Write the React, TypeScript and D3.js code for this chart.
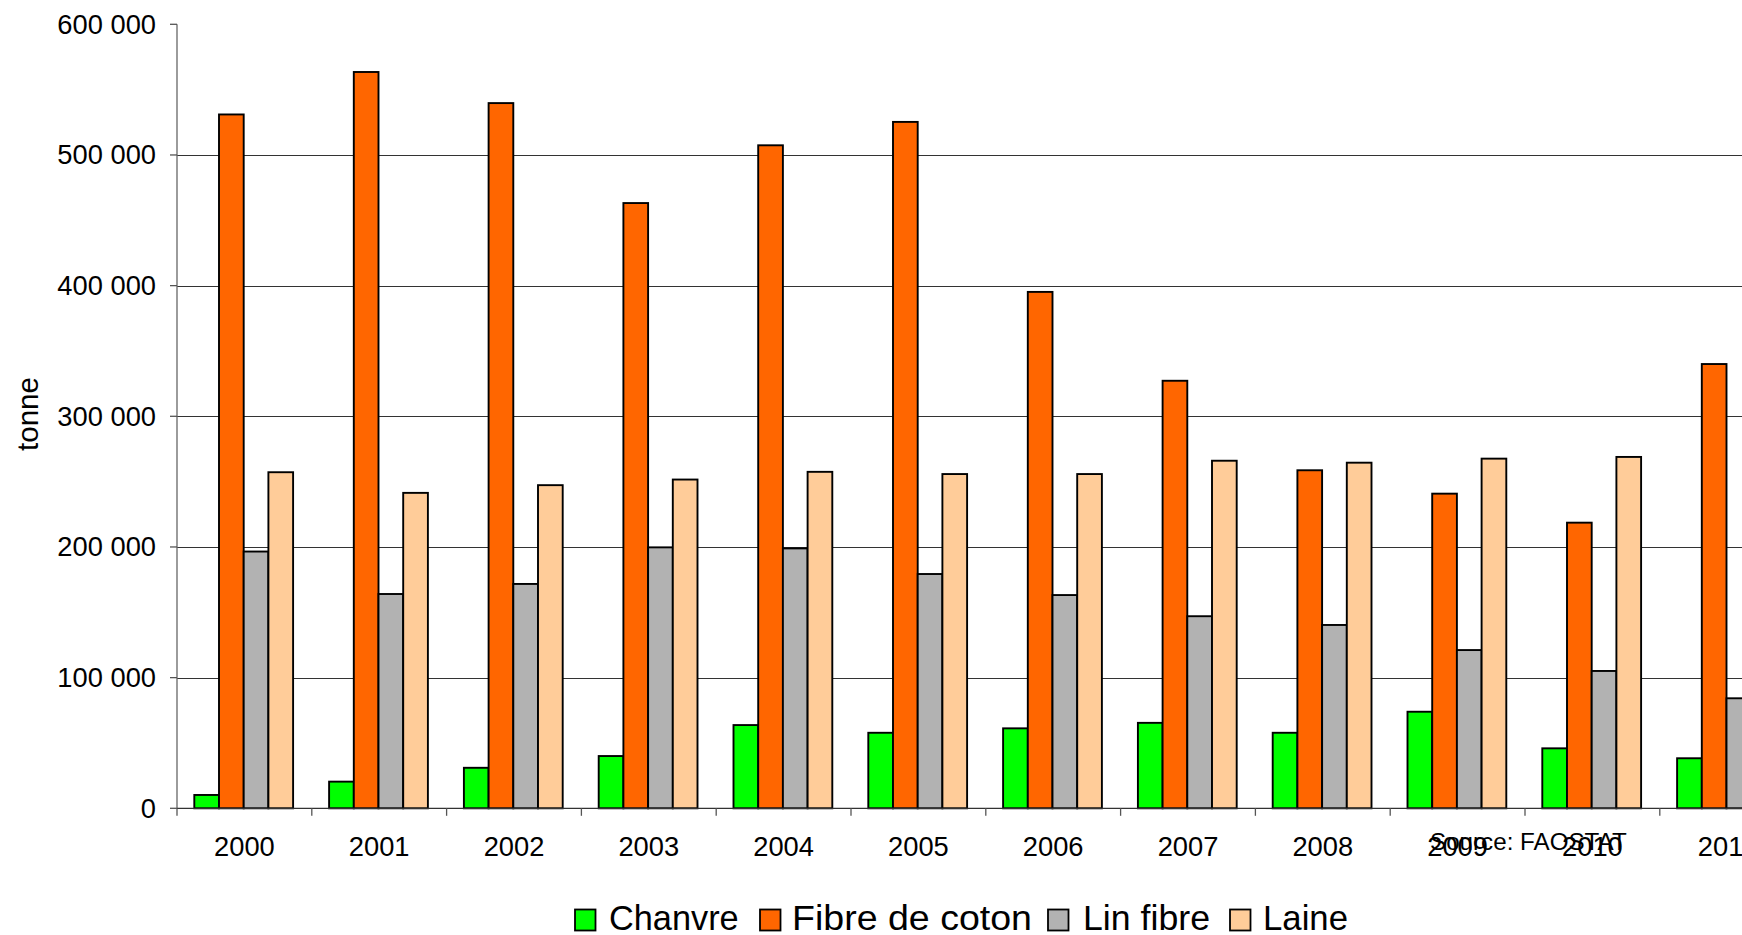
import React from "react";
import * as d3 from "d3";

const years = ["2000", "2001", "2002", "2003", "2004", "2005", "2006", "2007", "2008", "2009", "2010", "2011"];
const seriesNames = ["Chanvre", "Fibre de coton", "Lin fibre", "Laine"];
const seriesColors = ["#00FF00", "#FF6600", "#B2B2B2", "#FFCC99"];
const chanvre = [10200, 20400, 31000, 40000, 63700, 57800, 61200, 65400, 57800, 73900, 45900, 38300];
const fibreCoton = [531000, 563500, 539700, 463200, 507400, 525300, 395200, 327200, 258700, 240800, 218600, 340000];
const linFibre = [196500, 164000, 171700, 199700, 198900, 179300, 163200, 147000, 140300, 121100, 105100, 84200];
const laine = [257200, 241400, 247300, 251600, 257500, 255800, 255800, 266000, 264500, 267600, 268900, 270000];
const yTicks = [0, 100000, 200000, 300000, 400000, 500000, 600000];
const yLabel = "tonne";
const sourceText = "Source: FAOSTAT";

const W = 1742;
const H = 935;
const FONT = "'Liberation Sans', Arial, sans-serif";

export default function App() {
  const data = [chanvre, fibreCoton, linFibre, laine];
  const left = 177;
  const band = 134.8;
  const x0 = d3.scaleBand<string>().domain(years).range([left, left + band * years.length]).paddingInner(0).paddingOuter(0);
  const x1 = d3.scaleBand<string>().domain(seriesNames).range([17.3, 17.3 + 98.8]).padding(0);
  const y = d3.scaleLinear().domain([0, 600000]).range([808.3, 24.3]);
  const fmt = (v: number) => d3.format(",")(v).replace(/,/g, " ");

  const legendSquares = [575, 760, 1048, 1230];
  const legendText = [609, 792, 1083, 1263];
  const legendLen = [129.7, 240, 127, 85];

  return (
    <svg width={W} height={H} style={{ position: "absolute", left: 0, top: 0, background: "#fff" }} fontFamily={FONT}>
      <rect x={0} y={0} width={W} height={H} fill="#fff" />
      {/* gridlines */}
      {yTicks.filter((t) => t > 0 && t < 600000).map((t) => (
        <line key={"g" + t} x1={left} x2={W} y1={Math.round(y(t)) + 0.5} y2={Math.round(y(t)) + 0.5} stroke="#333" strokeWidth={1.2} />
      ))}
      {/* bars */}
      {years.map((yr, i) => (
        <g key={yr} transform={`translate(${x0(yr)},0)`}>
          {seriesNames.map((s, j) => {
            const v = data[j][i];
            return (
              <rect
                key={s}
                x={x1(s)}
                y={y(v)}
                width={x1.bandwidth()}
                height={y(0) - y(v)}
                fill={seriesColors[j]}
                stroke="#000"
                strokeWidth={1.9}
              />
            );
          })}
        </g>
      ))}
      {/* y axis */}
      <line x1={left} x2={left} y1={y(600000)} y2={y(0)} stroke="#666" strokeWidth={1.3} />
      {yTicks.map((t) => (
        <g key={"t" + t}>
          <line x1={left - 7} x2={left} y1={y(t)} y2={y(t)} stroke="#555" strokeWidth={1.3} />
          <text x={156} y={y(t) + 9.4} textAnchor="end" fontSize={27.3} fill="#000">
            {fmt(t)}
          </text>
        </g>
      ))}
      {/* x axis */}
      <line x1={left} x2={W} y1={y(0)} y2={y(0)} stroke="#333" strokeWidth={1.3} />
      {years.map((yr) => (
        <line key={"xt" + yr} x1={x0(yr)!} x2={x0(yr)!} y1={y(0)} y2={y(0) + 7.5} stroke="#555" strokeWidth={1.3} />
      ))}
      {years.map((yr) => (
        <text key={"xl" + yr} x={x0(yr)! + band / 2} y={856} textAnchor="middle" fontSize={27.3} fill="#000">
          {yr}
        </text>
      ))}
      {/* y label */}
      <text transform={`translate(38.3,414) rotate(-90)`} textAnchor="middle" fontSize={29.5} fill="#000">
        {yLabel}
      </text>
      {/* source */}
      <text x={1430} y={850} fontSize={24.2} fill="#000">
        {sourceText}
      </text>
      {/* legend */}
      {seriesNames.map((s, j) => (
        <g key={"lg" + s}>
          <rect x={legendSquares[j]} y={909.5} width={20.5} height={21} fill={seriesColors[j]} stroke="#000" strokeWidth={1.8} />
          <text x={legendText[j]} y={930} fontSize={35} textLength={legendLen[j]} lengthAdjust="spacingAndGlyphs" fill="#000">
            {s}
          </text>
        </g>
      ))}
    </svg>
  );
}
